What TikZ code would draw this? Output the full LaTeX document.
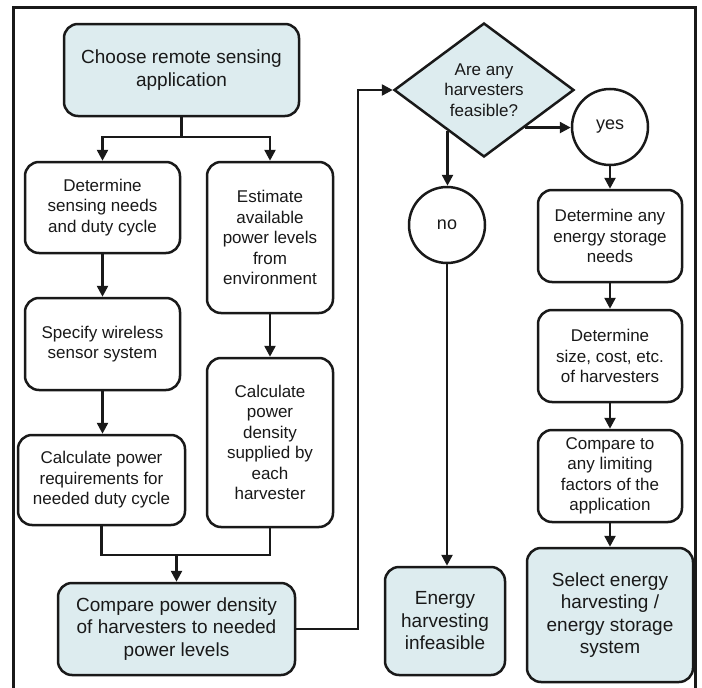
\documentclass[tikz,border=0pt]{standalone}
\usepackage{fontspec}
\setmainfont{Liberation Sans}
\usetikzlibrary{shapes.geometric,arrows.meta,calc}
\definecolor{boxblue}{RGB}{221,236,239}
\definecolor{ink}{RGB}{25,25,25}
\tikzset{
  wbox/.style={draw=ink, line width=2.5pt, rounded corners=14pt, fill=white, align=center,
    inner sep=0pt, text=ink, font=\fontsize{17}{20.5}\selectfont},
  bbox/.style={wbox, fill=boxblue, font=\fontsize{19}{22.5}\selectfont},
  ycircle/.style={draw=ink, circle, line width=2.5pt, minimum size=76pt, inner sep=0pt,
    text=ink, font=\fontsize{18}{20}\selectfont},
  decide/.style={draw=ink, diamond, line width=2.5pt, fill=boxblue, minimum width=180pt,
    minimum height=134pt, inner sep=0pt, align=center, text=ink, font=\fontsize{17}{20.5}\selectfont},
  conn/.style={draw=ink, line width=2.5pt},
  arr/.style={conn, -{Triangle[length=11pt,width=11pt]}},
}
\begin{document}
\begin{tikzpicture}[x=1pt,y=-1pt]
\useasboundingbox (0,0) rectangle (702,688);
\draw[draw=ink, line width=3pt] (13,692) -- (13,7) -- (695,7) -- (695,692);

\node[bbox, minimum width=235pt, minimum height=92pt] (choose) at (181.5,70) {Choose remote sensing\\application};
\node[wbox, minimum width=155pt, minimum height=91pt] (det) at (102.5,207.5) {Determine\\sensing needs\\and duty cycle};
\node[wbox, minimum width=126pt, minimum height=151pt] (est) at (270,237.5) {Estimate\\available\\power levels\\from\\environment};
\node[wbox, minimum width=155pt, minimum height=92pt] (spec) at (102.5,344) {Specify wireless\\sensor system};
\node[wbox, minimum width=167pt, minimum height=90pt] (calcreq) at (101.5,480) {Calculate power\\requirements for\\needed duty cycle};
\node[wbox, minimum width=126pt, minimum height=169pt] (calcden) at (270,442.5) {Calculate\\power\\density\\supplied by\\each\\harvester};
\node[bbox, minimum width=237pt, minimum height=92pt] (compare) at (176.5,629) {Compare power density\\of harvesters to needed\\power levels};

\node[decide] (diam) at (484,90) {Are any\\harvesters\\feasible?};
\node[ycircle] (no) at (447,225) {no};
\node[ycircle] (yes) at (610,127) {yes};
\node[bbox, minimum width=120pt, minimum height=108pt] (infeas) at (445,621) {Energy\\harvesting\\infeasible};

\node[wbox, minimum width=144pt, minimum height=92pt] (detany) at (610,236) {Determine any\\energy storage\\needs};
\node[wbox, minimum width=144pt, minimum height=92pt] (detsize) at (610,356) {Determine\\size, cost, etc.\\of harvesters};
\node[wbox, minimum width=144pt, minimum height=92pt] (complim) at (610,476) {Compare to\\any limiting\\factors of the\\application};
\node[bbox, minimum width=166pt, minimum height=134pt] (select) at (610,615) {Select energy\\harvesting /\\energy storage\\system};

\coordinate (split) at (181.5,137);
\draw[conn] (choose.south) -- (split);
\draw[arr] (split) -| (det.north);
\draw[arr] (split) -| (est.north);

\draw[arr] (det.south) -- (det.south |- spec.north);
\draw[arr] (spec.south) -- (spec.south |- calcreq.north);
\draw[arr] (est.south) -- (est.south |- calcden.north);

\coordinate (merge) at (176.5,555);
\draw[conn] (calcreq.south) |- (merge);
\draw[conn] (calcden.south) |- (merge);
\draw[arr] (merge) -- (compare.north);

\coordinate (turn) at (358,90);
\draw[arr] (compare.east) -| (turn) -- (diam.west);

\coordinate (nostart) at ($(diam.south)!0.4!(diam.west)$);
\draw[arr] (nostart) -- (nostart |- no.north);
\draw[arr] (no.south) -- (no.south |- infeas.north);

\coordinate (yesstart) at ($(diam.east)!0.55!(diam.south)$);
\draw[arr] (yesstart) -- (yesstart -| yes.west);
\draw[arr] (yes.south) -- (yes.south |- detany.north);
\draw[arr] (detany.south) -- (detany.south |- detsize.north);
\draw[arr] (detsize.south) -- (detsize.south |- complim.north);
\draw[arr] (complim.south) -- (complim.south |- select.north);
\end{tikzpicture}
\end{document}
